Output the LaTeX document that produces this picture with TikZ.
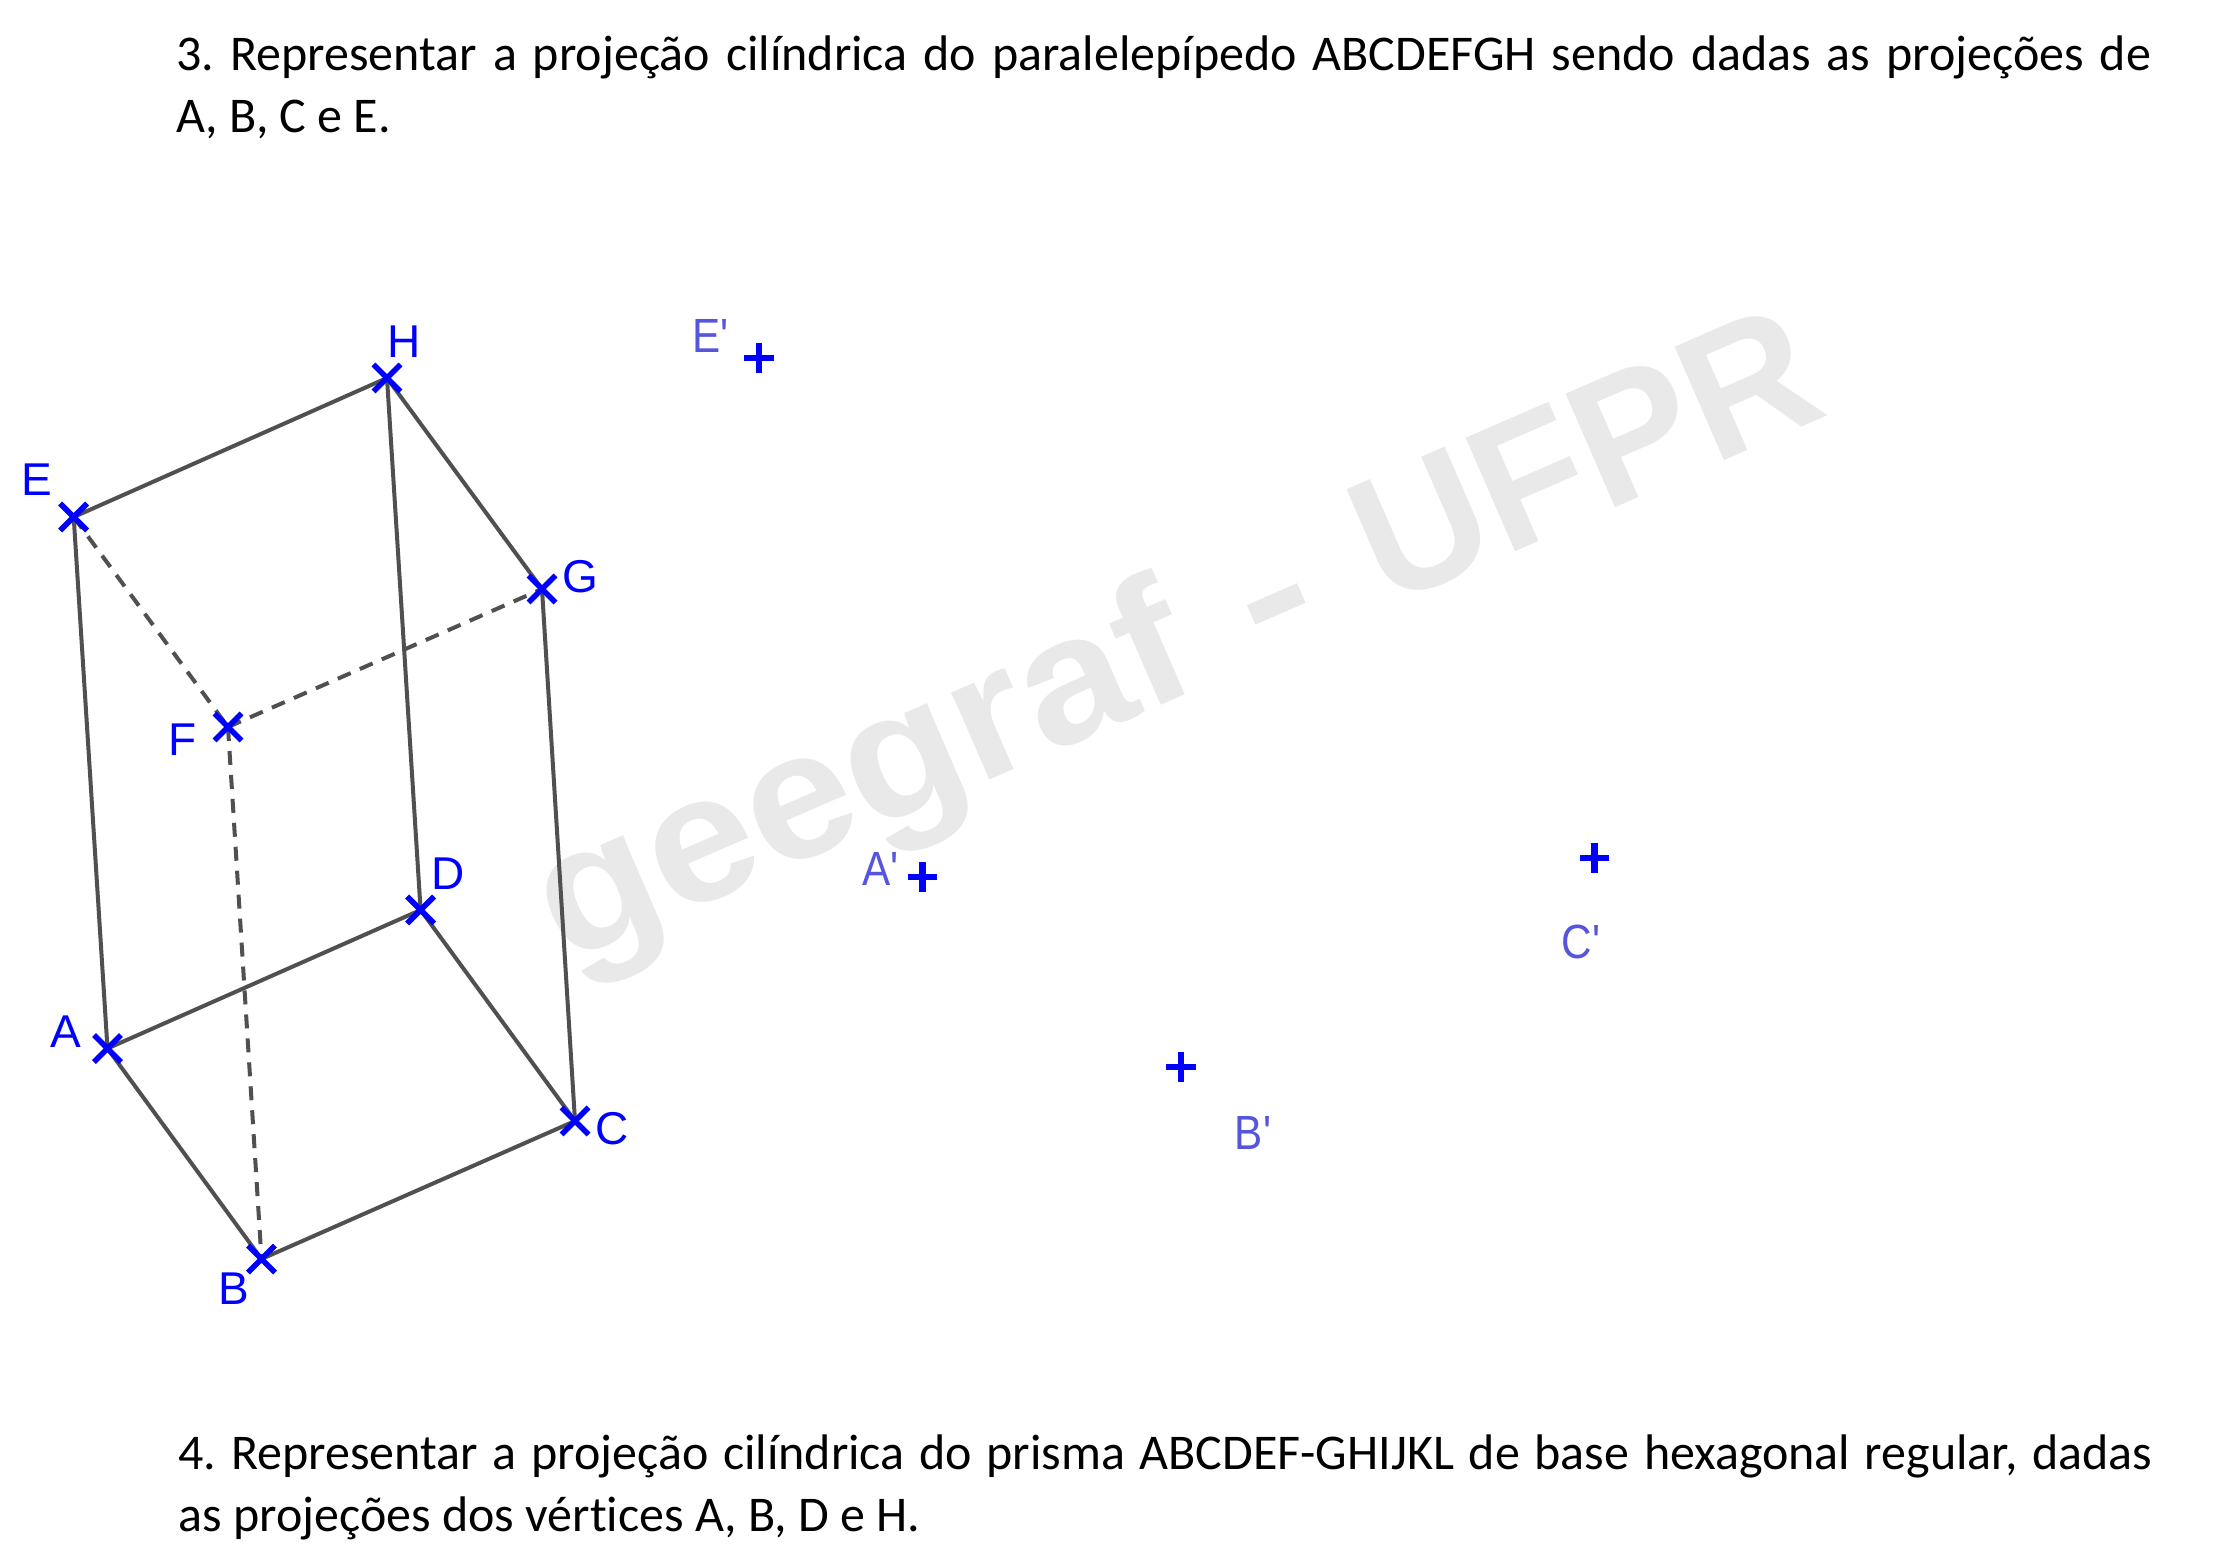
\documentclass[tikz,border=0pt]{standalone}
\usepackage{fontspec}
\setmainfont{Carlito}[Ligatures=NoCommon]
\newfontfamily\labfont{Liberation Sans}
\usetikzlibrary{shapes.misc,backgrounds}
\tikzset{
  x=0.5pt,y=-0.5pt,
  edgeline/.style={draw=edgegrey,line width=2pt},
  hidden/.style={edgeline,dash pattern=on 7pt off 5pt},
  vertex/.style={cross out,draw=blue,line width=2.8pt,minimum size=13.5pt,inner sep=0pt,outer sep=0pt},
  projmark/.style={cross out,rotate=45,draw=blue,line width=3.4pt,minimum size=10.5pt,inner sep=0pt,outer sep=0pt},
  vlabel/.style={text=blue,font=\labfont\fontsize{23}{26}\selectfont,inner sep=0pt},
  plabel/.style={text=plabelblue,font=\labfont\fontsize{24}{26}\selectfont,xscale=0.88,inner sep=0pt},
  statement/.style={anchor=base west,inner sep=0pt,font=\fontsize{25}{31}\selectfont},
  watermark/.style={text=wmgrey,font=\labfont\bfseries\fontsize{90}{100}\selectfont,rotate=23.5,inner sep=0pt}
}
\definecolor{edgegrey}{HTML}{505050}
\definecolor{plabelblue}{HTML}{5555DD}
\definecolor{wmgrey}{HTML}{E9E9E9}
\begin{document}
\begin{tikzpicture}
\useasboundingbox (0,0) rectangle (2218,1561);
\node[statement] (q3) at (176,71) {\parbox[t]{987.5pt}{\frenchspacing 3. Representar a projeção cilíndrica do paralelepípedo ABCDEFGH sendo dadas as projeções de\linebreak A, B, C e E.}};
\node[statement] (q4) at (178,1469) {\parbox[t]{987pt}{\frenchspacing 4. Representar a projeção cilíndrica do prisma ABCDEF-GHIJKL de base hexagonal regular, dadas\linebreak as projeções dos vértices A, B, D e H.}};
\node[vertex] (A) at (107.5,1048.5) {};
\node[vertex] (B) at (261.5,1259) {};
\node[vertex] (C) at (575,1121) {};
\node[vertex] (D) at (420.6,910) {};
\node[vertex] (E) at (73.7,517) {};
\node[vertex] (F) at (228,727) {};
\node[vertex] (G) at (542,589) {};
\node[vertex] (H) at (387,378) {};
\node[vlabel] (lA) at (65.5,1032) {A};
\node[vlabel] (lB) at (234,1289) {B};
\node[vlabel] (lC) at (612,1129) {C};
\node[vlabel] (lD) at (448,873.5) {D};
\node[vlabel] (lE) at (37,480) {E};
\node[vlabel] (lF) at (183,739.6) {F};
\node[vlabel] (lG) at (580,577) {G};
\node[vlabel] (lH) at (404.6,342) {H};
\node[projmark] (Ap) at (922.6,877) {};
\node[projmark] (Bp) at (1181,1067) {};
\node[projmark] (Cp) at (1594.5,858) {};
\node[projmark] (Ep) at (759,358) {};
\node[plabel] (lAp) at (880.5,869) {A'};
\node[plabel] (lBp) at (1253,1133) {B'};
\node[plabel] (lCp) at (1581,942) {C'};
\node[plabel] (lEp) at (710.6,335.5) {E'};
\begin{scope}[on background layer]
\node[watermark] (wm) at (1180,647) {\scalebox{1.07}[1]{geegraf}\hspace{7pt} \scalebox{1.2}[1]{-}\hspace{7pt} \scalebox{0.99}[1]{UFPR}};
\draw[edgeline] (A.center) -- (B.center);
\draw[edgeline] (B.center) -- (C.center);
\draw[edgeline] (C.center) -- (D.center);
\draw[edgeline] (D.center) -- (A.center);
\draw[edgeline] (E.center) -- (H.center);
\draw[edgeline] (H.center) -- (G.center);
\draw[edgeline] (A.center) -- (E.center);
\draw[edgeline] (D.center) -- (H.center);
\draw[edgeline] (C.center) -- (G.center);
\draw[hidden] (E.center) -- (F.center);
\draw[hidden] (F.center) -- (G.center);
\draw[hidden] (F.center) -- (B.center);
\end{scope}
\end{tikzpicture}
\end{document}
